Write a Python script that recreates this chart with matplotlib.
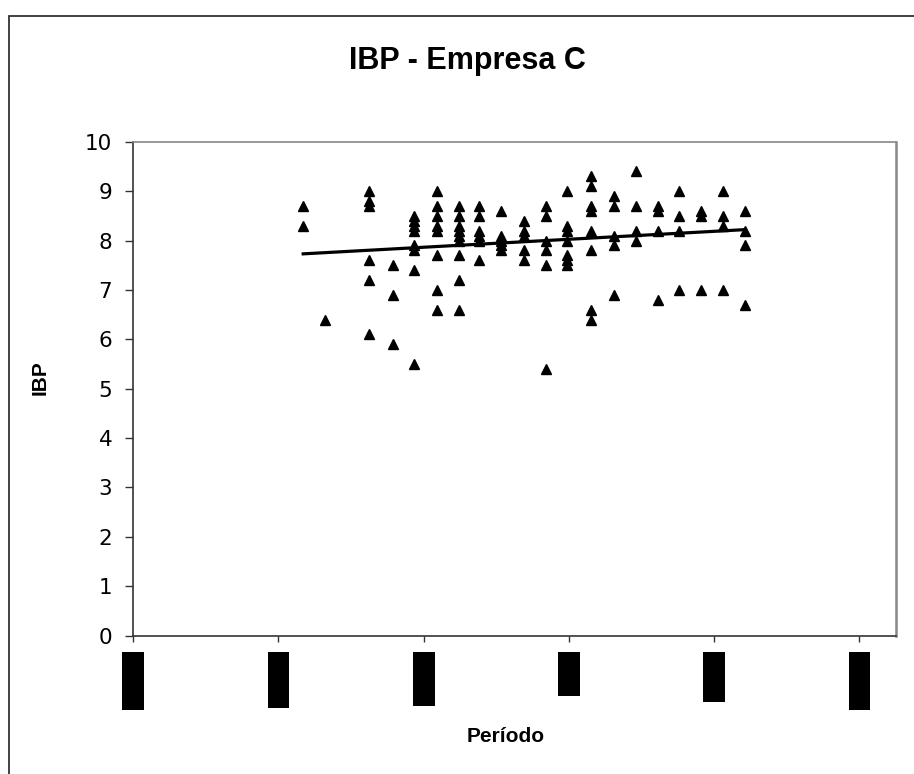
import matplotlib
matplotlib.use("Agg")
import matplotlib.pyplot as plt
from matplotlib.patches import Rectangle
import numpy as np

# period position of each column of observations (tick units, 0..5)
col_x = [1.17, 1.32, 1.62, 1.79, 1.93, 2.09, 2.24, 2.38, 2.53, 2.69,
         2.84, 2.99, 3.15, 3.31, 3.46, 3.61, 3.76, 3.91, 4.06, 4.21]

# IBP values observed in each column
col_ibp = [
    [8.7, 8.3],
    [6.4],
    [9.0, 8.8, 8.7, 7.6, 7.2, 6.1],
    [7.5, 6.9, 5.9],
    [8.5, 8.4, 8.3, 8.2, 7.9, 7.8, 7.4, 5.5],
    [9.0, 8.7, 8.5, 8.3, 8.2, 7.7, 7.0, 6.6],
    [8.7, 8.5, 8.3, 8.2, 8.1, 8.0, 7.7, 7.2, 6.6],
    [8.7, 8.5, 8.2, 8.1, 8.0, 7.6],
    [8.6, 8.1, 8.0, 7.9, 7.8],
    [8.4, 8.2, 8.1, 7.8, 7.6],
    [8.7, 8.5, 8.0, 7.8, 7.5, 5.4],
    [9.0, 8.3, 8.2, 8.0, 7.7, 7.6, 7.5],
    [9.3, 9.1, 8.7, 8.6, 8.2, 7.8, 6.6, 6.4],
    [8.9, 8.7, 8.1, 7.9, 6.9],
    [9.4, 8.7, 8.2, 8.0],
    [8.7, 8.6, 8.2, 6.8],
    [9.0, 8.5, 8.2, 7.0],
    [8.6, 8.5, 7.0],
    [9.0, 8.5, 8.3, 7.0],
    [8.6, 8.2, 7.9, 6.7],
]

# trend line (start / end)
trend_x = [1.17, 4.21]
trend_y = [7.73, 8.22]

tick_pos = [0, 1, 2, 3, 4, 5]
# the period labels are blacked out in the source; bottom of each box (axes fraction)
label_box_bottom = [-0.150, -0.146, -0.142, -0.122, -0.134, -0.150]

xs = []
ys = []
for x, vals in zip(col_x, col_ibp):
    for v in vals:
        xs.append(x)
        ys.append(v)

fig = plt.figure(figsize=(9.14, 7.74), dpi=100)
ax = fig.add_axes([0.1458, 0.1787, 0.8342, 0.6382])

ax.plot(xs, ys, linestyle="none", marker="^", markersize=7,
        color="black", zorder=3)
ax.plot(trend_x, trend_y, color="black", linewidth=2.3, zorder=2)

ax.set_xlim(0, 5.25)
ax.set_ylim(0, 10)
ax.set_yticks(range(0, 11))
ax.set_xticks(tick_pos)
ax.set_xticklabels([])

for sp in ["top", "right"]:
    ax.spines[sp].set_color("#888888")
ax.spines["right"].set_linewidth(1.8)
ax.spines["top"].set_linewidth(1.2)
for sp in ["left", "bottom"]:
    ax.spines[sp].set_color("#333333")
    ax.spines[sp].set_linewidth(1.2)

ax.tick_params(axis="y", direction="out", length=6, width=1, color="#333333",
               labelsize=15.5, pad=9)
ax.tick_params(axis="x", direction="out", length=4.5, width=1, color="#333333")
for lab in ax.get_yticklabels():
    lab.set_family("DejaVu Sans")

# blacked-out period labels
for t, b in zip(tick_pos, label_box_bottom):
    ax.add_patch(Rectangle((t - 0.075, b), 0.15, -0.0324 - b,
                           transform=ax.get_xaxis_transform(),
                           facecolor="black", edgecolor="none", clip_on=False))

fig.text(467 / 914, 1 - 61 / 774, "IBP - Empresa C", fontsize=22,
         fontweight="bold", family="Liberation Sans", ha="center", va="center")
fig.text(40 / 914, 1 - 378 / 774, "IBP", fontsize=15, fontweight="bold",
         family="Liberation Sans", rotation=90, ha="center", va="center")
fig.text(506 / 914, 1 - 737 / 774, "Período", fontsize=15, fontweight="bold",
         family="Liberation Sans", ha="center", va="center")

# outer chart frame (runs off the right and bottom edge)
fig.patches.append(Rectangle((9 / 914, -0.05), 1.2, 1 - 16 / 774 + 0.05,
                             transform=fig.transFigure, fill=False,
                             edgecolor="#333333", linewidth=1.3))

fig.savefig("out.png", dpi=100)
